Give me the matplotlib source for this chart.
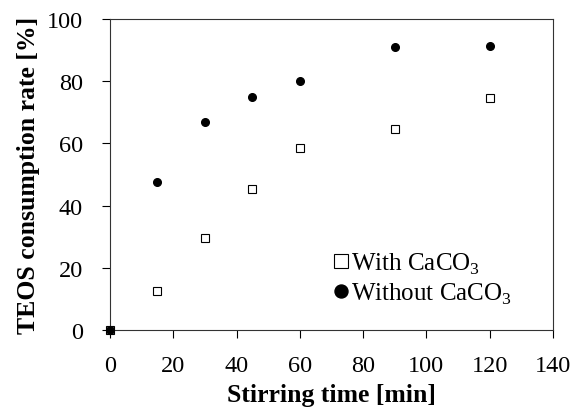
import matplotlib.pyplot as plt

# ─── DATA ──────────────────────────────────────────────────────────────────
time_min      = [0, 15, 30, 45, 60, 90, 120]
with_caco3    = [0, 12.5, 29.5, 45.5, 58.5, 64.5, 74.5]
without_caco3 = [0, 47.5, 67, 75, 80, 91, 91.5]
x_ticks = [0, 20, 40, 60, 80, 100, 120, 140]
y_ticks = [0, 20, 40, 60, 80, 100]
# ────────────────────────────────────────────────────────────────────────────

plt.rcParams['font.family'] = 'Liberation Serif'
plt.rcParams['mathtext.fontset'] = 'custom'
plt.rcParams['mathtext.rm'] = 'Liberation Serif'

fig = plt.figure(figsize=(5.74, 4.10), dpi=100)
ax = fig.add_axes([0.1916, 0.1927, 0.7718, 0.7583])

ax.plot(time_min, with_caco3, 's', mfc='white', mec='black', mew=0.8,
        ms=6, label=r'With CaCO$_3$', clip_on=False, zorder=3)
ax.plot(time_min, without_caco3, 'o', color='black', ms=5.5,
        label=r'Without CaCO$_3$', clip_on=False, zorder=3)

ax.set_xlim(0, 140)
ax.set_ylim(0, 100)
ax.set_xticks(x_ticks)
ax.set_yticks(y_ticks)
ax.tick_params(direction='out', length=5.5, width=0.8, labelsize=17.5)
ax.tick_params(axis='x', pad=12.5)
ax.tick_params(axis='y', pad=14)
for s in ax.spines.values():
    s.set_linewidth(0.8)
    s.set_color('#333333')

ax.set_xlabel('Stirring time [min]', fontsize=18.5, fontweight='bold')
ax.set_ylabel('TEOS consumption rate [%]', fontsize=18.5, fontweight='bold')
ax.xaxis.set_label_coords(0.5, -0.172)
ax.yaxis.set_label_coords(-0.158, 0.5)

ax.legend(loc='upper left', frameon=False, fontsize=18, handletextpad=0.0,
          handlelength=0.8, markerscale=1.7, labelspacing=0.2,
          borderpad=0, borderaxespad=0, bbox_to_anchor=(0.5, 0.255))

fig.savefig('out.png', dpi=100)
